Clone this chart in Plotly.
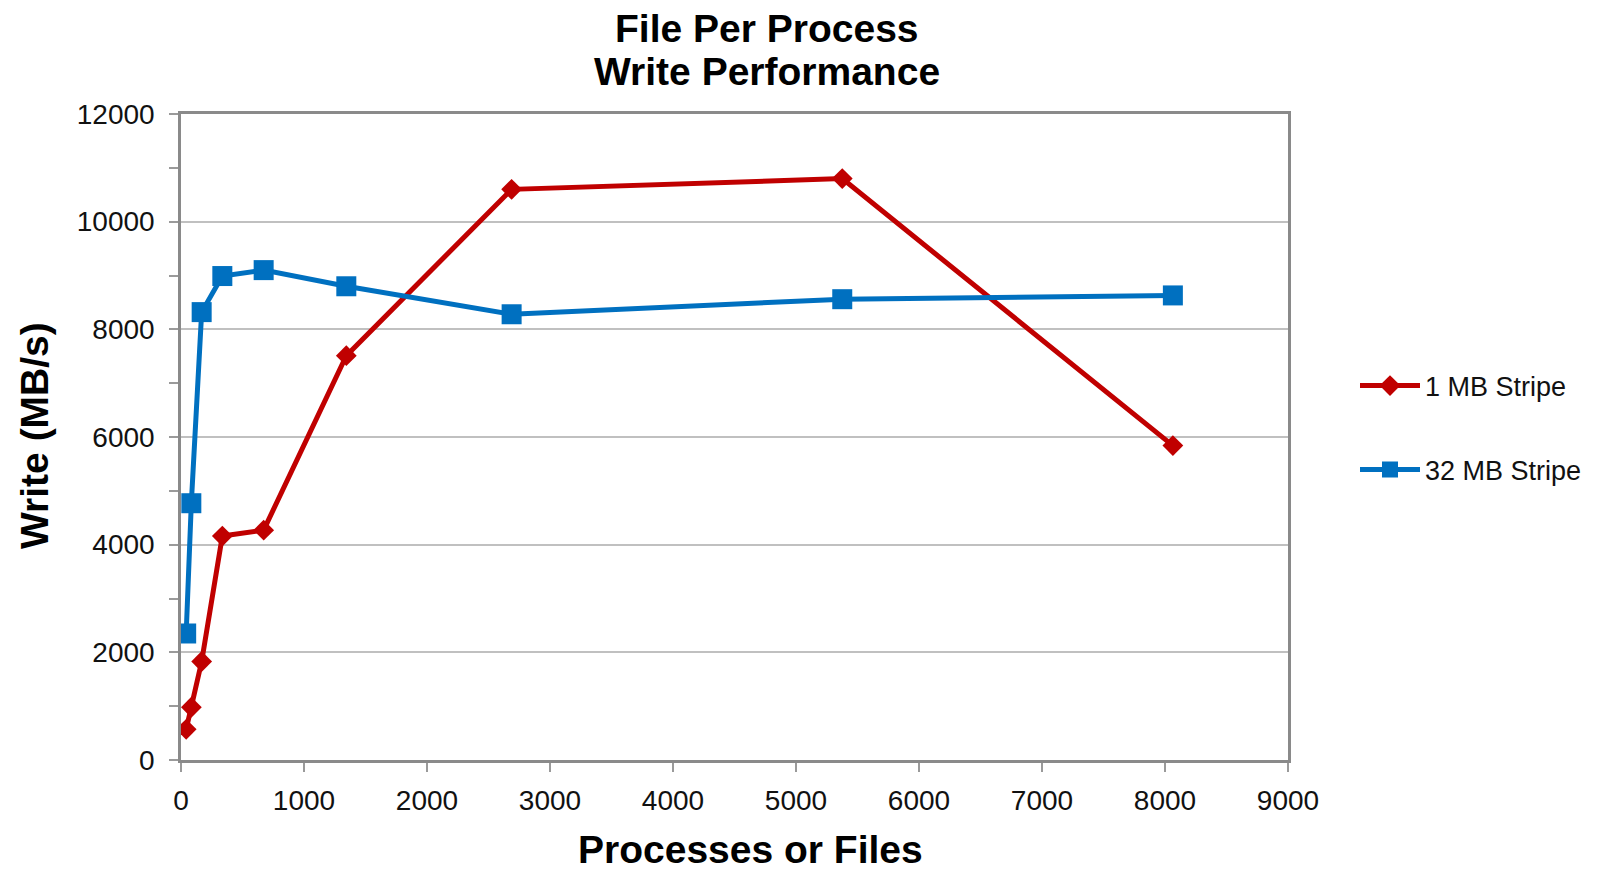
import plotly.graph_objects as go

# Processes (or files) per run
processes = [42, 84, 168, 336, 672, 1344, 2688, 5376, 8064]

# Aggregate write bandwidth in MB/s
stripe_1mb = [570, 980, 1830, 4160, 4270, 7510, 10600, 10800, 5840]
stripe_32mb = [2350, 4770, 8320, 8990, 9100, 8800, 8280, 8560, 8630]

series_names = ["1 MB Stripe", "32 MB Stripe"]
x_ticks = list(range(0, 9001, 1000))
y_ticks = list(range(0, 12001, 2000))

W, H = 1603, 872
L, R, T, B = 181, 315, 114, 112
PLOT_W = W - L - R
PLOT_H = H - T - B
FONT = "Liberation Sans, Arial, sans-serif"
RED = "#C00000"
BLUE = "#0070C0"


def px_to_paper(px, py):
    """Convert page pixel position to paper coordinates of the plot area."""
    return (px - L) / PLOT_W, (H - B - py) / PLOT_H


fig = go.Figure()
fig.add_trace(go.Scatter(
    x=processes, y=stripe_1mb, name=series_names[0], mode="lines+markers",
    line=dict(color=RED, width=5),
    marker=dict(symbol="diamond", size=16, color=RED),
    legend="legend",
))
fig.add_trace(go.Scatter(
    x=processes, y=stripe_32mb, name=series_names[1], mode="lines+markers",
    line=dict(color=BLUE, width=5),
    marker=dict(symbol="square", size=20, color=BLUE),
    legend="legend2",
))

axis_common = dict(
    showline=True, linecolor="#8a8a8a", linewidth=2.5, mirror=True,
    ticks="outside", tickcolor="#9a9a9a", tickwidth=2, ticklen=9,
    tickfont=dict(family=FONT, size=28, color="#111111"),
    zeroline=False, tickformat="d",
)

fig.update_xaxes(
    range=[0, 9000], tickvals=x_ticks, showgrid=False,
    ticklabelstandoff=5, **axis_common,
)
fig.update_yaxes(
    range=[0, 12000], tickvals=y_ticks, showgrid=True,
    gridcolor="#c0c0c0", gridwidth=2,
    minor=dict(dtick=1000, ticks="outside", ticklen=9, tickcolor="#9a9a9a",
               tickwidth=2, showgrid=False),
    ticklabelstandoff=9, **axis_common,
)

title_font = dict(family=FONT, size=39, color="#000000")


def label(text, px, py, angle=0):
    x, y = px_to_paper(px, py)
    return dict(text=text, x=x, y=y, xref="paper", yref="paper",
                showarrow=False, font=title_font, textangle=angle,
                xanchor="center", yanchor="middle")


annotations = [
    label("<b>File Per Process</b>", 767, 28),
    label("<b>Write Performance</b>", 767, 72),
    label("<b>Processes or Files</b>", 750, 849),
    label("<b>Write (MB/s)</b>", 34, 436, angle=-90),
]

legend_font = dict(family=FONT, size=27, color="#111111")
lx1, ly1 = px_to_paper(1355, 386)
lx2, ly2 = px_to_paper(1355, 470)
fig.update_layout(
    width=W, height=H,
    margin=dict(l=L, r=R, t=T, b=B),
    paper_bgcolor="white", plot_bgcolor="white",
    annotations=annotations,
    showlegend=True,
    legend=dict(x=lx1, y=ly1, xanchor="left", yanchor="middle",
                font=legend_font, itemwidth=60, bgcolor="rgba(0,0,0,0)"),
    legend2=dict(x=lx2, y=ly2, xanchor="left", yanchor="middle",
                 font=legend_font, itemwidth=60, bgcolor="rgba(0,0,0,0)"),
)

fig.write_html("out.html")
